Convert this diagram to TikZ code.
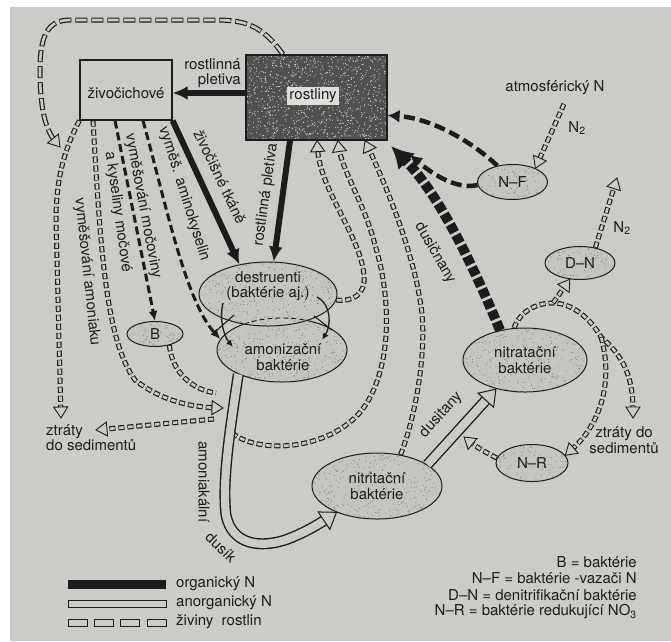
\documentclass[tikz,border=0pt]{standalone}
\usepackage{fontspec}
\setmainfont{TeX Gyre Heros}
\usetikzlibrary{arrows.meta,shapes.geometric,decorations.markings}
\definecolor{bg}{RGB}{203,203,200}
\definecolor{ellfill}{RGB}{196,196,192}
\definecolor{ink}{RGB}{28,28,28}
\definecolor{plant}{RGB}{80,80,80}
\definecolor{labfill}{RGB}{222,222,218}
\begin{document}
\begin{tikzpicture}[x=1pt,y=-1pt,
  txt/.style={font=\fontsize{15}{15.5}\selectfont, text=ink, inner sep=1pt, align=center},
  box/.style={rectangle, draw=ink, line width=1.2pt, inner sep=0pt},
  ell/.style n args={3}{ellipse, draw=ink, line width=1pt, fill=ellfill, inner sep=0pt,
    minimum width=#1pt, minimum height=#2pt,
    path picture={\foreach \k in {1,...,#3}{\fill[black!55] ([shift={({(rnd-0.5)*#1},{(rnd-0.5)*#2})}]path picture bounding box.center) circle (0.5pt);}}},
  hd/.style={draw=ink, line width=5pt, dash pattern=on 6pt off 3pt, shorten >=8pt,
    postaction={draw=bg, line width=2.6pt, dash pattern=on 4.6pt off 4.4pt, dash phase=8.3pt, shorten >=8pt}},
  hdl/.style={draw=ink, line width=5pt, dash pattern=on 12pt off 4pt, shorten >=8pt,
    postaction={draw=bg, line width=2.6pt, dash pattern=on 10.6pt off 5.4pt, dash phase=15.3pt, shorten >=8pt}},
  htip/.style={postaction={decorate,decoration={markings,mark=at position 1 with {\draw[ink, fill=bg, line width=0.9pt, solid] (0pt,0pt) -- (-11pt,7pt) -- (-11pt,-7pt) -- cycle;}}}},
  hs/.style={draw=ink, line width=11pt, shorten >=10pt,
    postaction={draw=bg, line width=8.2pt, shorten >=9pt}},
  hstip/.style={postaction={decorate,decoration={markings,mark=at position 1 with {\draw[ink, fill=bg, line width=1pt, solid] (0pt,0pt) -- (-15pt,10.5pt) -- (-15pt,-10.5pt) -- cycle;}}}},
  org/.style={draw=ink, line width=6pt, -{Latex[length=15pt,width=14pt]}},
  bd/.style={draw=ink, line width=3pt, dash pattern=on 8pt off 4pt, -{Latex[length=10pt,width=9pt]}},
  nfd/.style={draw=ink, line width=4.5pt, dash pattern=on 11pt off 5pt, -{Latex[length=12pt,width=13pt]}},
  dus/.style={draw=ink, line width=10pt, dash pattern=on 9pt off 3pt, -{Latex[length=22pt,width=24pt]}},
  thin/.style={draw=ink, line width=1.3pt, -{Latex[length=7pt,width=6pt]}}
]
\pgfmathsetseed{7}
\fill[white] (0,0) rectangle (671,641);
\fill[bg] (10,7) rectangle (671,641);
\useasboundingbox (0,0) rectangle (671,641);

% ---------- boxes ----------
\node[box, fill=bg, minimum width=92pt, minimum height=60pt] (ziv) at (126,90) {};
\node[txt] (zivT) at (126,93) {živočichové};
\node[box, fill=plant, minimum width=141pt, minimum height=85pt,
  path picture={\foreach \k in {1,...,1100}{\fill[white!70!gray] ([shift={({(rnd-0.5)*141},{(rnd-0.5)*85})}]path picture bounding box.center) circle (0.55pt);}}] (rost) at (316.5,97.5) {};
\node[txt, fill=labfill, inner sep=2pt] (rostT) at (313,96) {rostliny};

% ---------- ellipses ----------
\node[ell={130}{64}{330}] (amon) at (282,350) {};
\node[ell={138}{64}{340}] (dest) at (268,294) {};
\begin{scope}
  \clip (268,294) ellipse [x radius=68.4pt, y radius=31.4pt];
  \draw[ink, line width=0.9pt, dash pattern=on 5pt off 3pt] (282,350) ellipse [x radius=65pt, y radius=32pt];
\end{scope}
\node[ell={56}{25}{60}] (B) at (155,334) {};
\node[ell={130}{66}{330}] (nitrit) at (377,486) {};
\node[ell={124}{64}{300}] (nitrat) at (525,360) {};
\node[ell={70}{35}{100}] (NF) at (512.5,182) {};
\node[ell={70}{33}{95}] (DN) at (580,263) {};
\node[ell={72}{37}{100}] (NR) at (532,463) {};

% ---------- free ends ----------
\coordinate (lossA) at (60,147);
\coordinate (lossB) at (61,418);
\coordinate (amA) at (223,408);
\coordinate (amB) at (224,394);
\coordinate (amC) at (214,419);
\coordinate (lossC) at (96,430);
\coordinate (amD) at (232,433);
\coordinate (n2src) at (564,104);
\coordinate (n2up) at (617,178);
\coordinate (nfB) at (410,155);
\coordinate (dusTip) at (391,146);
\coordinate (jA) at (553,303);
\coordinate (jB) at (601,337);
\coordinate (lossD) at (633,418);
\coordinate (nrTip) at (464,437);
\coordinate (la1) at (223,303);
\coordinate (la2) at (233,347);
\coordinate (ra1) at (317,297);
\coordinate (ra2) at (322,340);

% ---------- hollow dashed (nutrients) ----------
\draw[hdl, htip] ([xshift=-33.5pt]rost.north) .. controls (262,25) and (245,20) .. (215,20) -- (70,20)
   .. controls (48,20) and (40,35) .. (40,70) .. controls (40,110) and (46,130) .. (lossA);
\draw[hd, htip] (ziv.south west) .. controls (64,150) and (56,180) .. (56,220) -- (lossB);
\draw[hd, htip] ([xshift=-33pt]ziv.south) .. controls (100,240) and (105,340) .. (135,380)
   .. controls (160,400) and (190,407) .. (amA);
\draw[hd, htip] (B.-38) .. controls (172,372) and (192,390) .. (amB);
\draw[hd, htip] (amC) -- (lossC);
\draw[hd, htip] (dest.-5) .. controls (352,302) and (366,295) .. (364,275)
   .. controls (360,235) and (320,190) .. ([xshift=0.5pt]rost.south);
\draw[hd, htip] (amD) .. controls (260,455) and (330,450) .. (362,410)
   .. controls (392,370) and (392,300) .. (375,245) .. controls (365,205) and (342,170) .. ([xshift=21.5pt]rost.south);
\draw[hd, htip] (nitrit.53) .. controls (418,410) and (428,340) .. (420,300)
   .. controls (412,250) and (388,190) .. ([xshift=48.5pt]rost.south);
\draw[hd, htip] (n2src) -- (NF.31);
\draw[hd, htip] (DN.45) -- (n2up);
\draw[hd, htip] (NR.172) .. controls (485,452) and (475,446) .. (nrTip);
\draw[hd, htip] (nitrat.109) .. controls (520,312) and (535,303) .. (jA)
   .. controls (572,303) and (590,318) .. (jB) .. controls (622,355) and (633,375) .. (lossD);
\draw[hd, htip] (jA) -- (DN.238);
\draw[hd, htip] (jB) .. controls (612,375) and (605,420) .. (NR.13);

% ---------- hollow solid (inorganic N) ----------
\draw[hs, hstip] (amon.209) .. controls (230,430) and (222,480) .. (226,515)
   .. controls (232,545) and (260,548) .. (285,540) .. controls (305,533) and (322,522) .. (nitrit.213);
\draw[hs, hstip] (nitrit.23) -- (nitrat.225);

% ---------- organic N ----------
\draw[org] (rost.west |- 0,93) -- (ziv.east |- 0,93);
\draw[org] ([xshift=-26.5pt]rost.south) -- (dest.80);
\draw[org] (ziv.south east) -- (dest.134);
\draw[dus] (nitrat.130) .. controls (475,270) and (440,195) .. (dusTip);

% ---------- black dashed ----------
\draw[bd] ([xshift=-11pt]ziv.south) -- (B.north);
\draw[bd] ([xshift=17pt]ziv.south) .. controls (165,200) and (185,300) .. (amon.170);
\draw[nfd] (NF.133) .. controls (470,140) and (430,118) .. ([yshift=-18pt]rost.east);
\draw[nfd] (NF.185) .. controls (455,190) and (430,172) .. (nfB);

% ---------- small arrows dest -> amon ----------
\draw[thin] (la1) .. controls (219,320) and (224,336) .. (la2);
\draw[thin] (ra1) .. controls (332,305) and (331,326) .. (ra2);
\draw[ink, line width=1.1pt] (216,331) -- (234,315);
\draw[ink, line width=1.1pt] (314,316) -- (332,330);

% ---------- texts ----------
\node[txt] (destT) at (268,286) {destruenti\\(baktérie aj.)};
\node[txt] (amonT) at (283,357) {amonizační\\baktérie};
\node[txt] (BT) at (155,334) {B};
\node[txt] (nitritT) at (377,486) {nitritační\\baktérie};
\node[txt] (nitratT) at (525,360) {nitratační\\baktérie};
\node[txt] (NFT) at (512.5,182) {N–F};
\node[txt] (DNT) at (580,263) {D–N};
\node[txt] (NRT) at (532,463) {N–R};

\node[txt, anchor=east, align=right] (lbRp1) at (242,73) {rostlinná\\pletiva};
\node[txt] (atm) at (555,88) {atmosférický N};
\node[txt] (n2a) at (577,128) {N\textsubscript{2}};
\node[txt] (n2b) at (622,228) {N\textsubscript{2}};
\node[txt, rotate=-84] (lbAmon) at (87,272) {vyměšování amoniaku};
\node[txt, rotate=-79.4] (lbMoc1) at (143,206) {vyměšování močoviny};
\node[txt, rotate=-82] (lbMoc2) at (118,212) {a kyseliny močové};
\node[txt, rotate=-72.4] (lbAmk) at (184,194) {vyměš. aminokyselin};
\node[txt, rotate=-64.6] (lbTk) at (220,177) {živočišné tkáně};
\node[txt, rotate=82] (lbRp) at (266,195) {rostlinná pletiva};
\node[txt, rotate=-60] (lbDus) at (435,253) {dusičnany};
\node[txt, rotate=-90] (lbAk) at (204,482) {amoniakální};
\node[txt, rotate=-44] (lbDk) at (221,547) {dusík};
\node[txt, rotate=47.7] (lbDt) at (441,415) {dusitany};
\node[txt, anchor=north west, align=left, inner sep=0pt] (lossLT) at (46,424) {ztráty\\do sedimentů};
\node[txt, align=center, inner sep=0pt] (lossRT) at (624,440) {ztráty do\\sedimentů};

% ---------- legend ----------
\fill[ink] (68,580) rectangle (166,589);
\draw[ink, line width=1pt, fill=bg] (68,600) rectangle (166,607);
\foreach \xa in {68,94,120,147}{\draw[ink, line width=1pt, fill=bg] (\xa,619) rectangle ({\xa+19},626);}
\node[txt, anchor=west] (lgO) at (175,584) {organický N};
\node[txt, anchor=west] (lgA) at (175,603) {anorganický N};
\node[txt, anchor=west] (lgZ) at (175,622) {živiny\ \ rostlin};

\node[txt, anchor=east] (lgB) at (638,562) {B = baktérie};
\node[txt, anchor=east] (lgNF) at (638,578) {N–F = baktérie -vazači N};
\node[txt, anchor=east] (lgDN) at (638,595) {D–N = denitrifikační baktérie};
\node[txt, anchor=east] (lgNR) at (638,612) {N–R = baktérie redukující NO\textsubscript{3}};
\end{tikzpicture}
\end{document}
